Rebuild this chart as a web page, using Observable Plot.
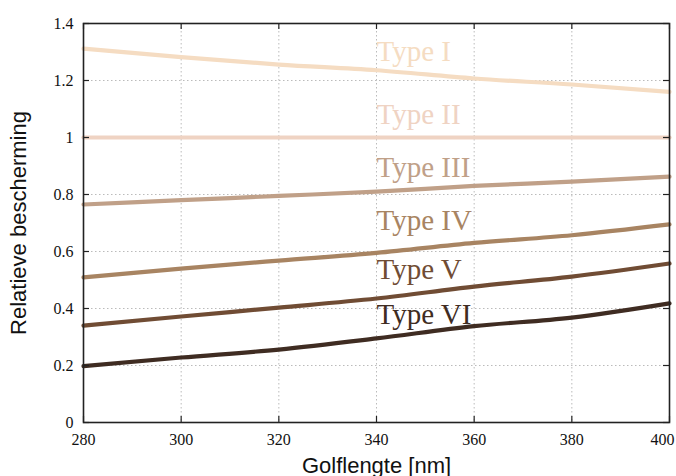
<!DOCTYPE html>
<html>
<head>
<meta charset="utf-8">
<script src="https://cdn.jsdelivr.net/npm/d3@7"></script>
<script src="https://cdn.jsdelivr.net/npm/@observablehq/plot@0.6"></script>
<style>
  html, body { margin: 0; padding: 0; background: #fff; }
  #chart svg { display: block; }
</style>
</head>
<body>
<div id="chart"></div>
<script>
const wavelengths = [280, 300, 320, 340, 360, 380, 400];
const typeNames = ["Type I", "Type II", "Type III", "Type IV", "Type V", "Type VI"];
const typeI   = [1.312, 1.282, 1.256, 1.236, 1.207, 1.186, 1.160];
const typeII  = [1.000, 1.000, 1.000, 1.000, 1.000, 1.000, 1.000];
const typeIII = [0.765, 0.780, 0.795, 0.810, 0.830, 0.845, 0.863];
const typeIV  = [0.509, 0.540, 0.568, 0.595, 0.630, 0.657, 0.695];
const typeV   = [0.340, 0.372, 0.403, 0.435, 0.477, 0.512, 0.558];
const typeVI  = [0.198, 0.228, 0.256, 0.295, 0.338, 0.368, 0.418];
const seriesValues = [typeI, typeII, typeIII, typeIV, typeV, typeVI];
const colors = ["#f5dcc2", "#efd3c3", "#c0a088", "#a88462", "#704c34", "#3f2c22"];
const labelX = [340, 340, 340, 340, 340, 340];
const labelY = [1.267, 1.049, 0.860, 0.674, 0.502, 0.347];
const xTicks = [280, 300, 320, 340, 360, 380, 400];
const yTicks = [0, 0.2, 0.4, 0.6, 0.8, 1, 1.2, 1.4];
const xGrid = [300, 320, 340, 360, 380];
const yGrid = [0.2, 0.4, 0.6, 0.8, 1, 1.2];

const rows = [];
seriesValues.forEach((vals, i) => vals.forEach((v, j) => rows.push({type: typeNames[i], x: wavelengths[j], y: v})));
const labels = typeNames.map((t, i) => ({type: t, x: labelX[i], y: labelY[i]}));

const W = 676, H = 476;
const mL = 83, mR = 7, mT = 23, mB = 54;
const pw = W - mL - mR, ph = H - mT - mB;
const tickLen = 6;

const chart = Plot.plot({
  width: W, height: H,
  marginLeft: mL, marginRight: mR, marginTop: mT, marginBottom: mB,
  x: {domain: [280, 400]},
  y: {domain: [0, 1.4]},
  color: {domain: typeNames, range: colors},
  style: {fontFamily: "'Liberation Serif', 'Times New Roman', serif", fontSize: "16px", color: "#111", background: "#fff"},
  marks: [
    Plot.ruleX(xGrid, {x: d => d, stroke: "#aaa", strokeWidth: 0.8, strokeDasharray: "1.5,2.5"}),
    Plot.ruleY(yGrid, {y: d => d, stroke: "#aaa", strokeWidth: 0.8, strokeDasharray: "1.5,2.5"}),
    Plot.line(rows, {x: "x", y: "y", z: "type", stroke: "type", strokeWidth: 4.2, curve: "monotone-x"}),
    Plot.text(labels, {x: "x", y: "y", text: "type", fill: "type", textAnchor: "start", lineAnchor: "bottom", fontSize: 29, fontFamily: "'Liberation Serif', 'Times New Roman', serif"}),
    Plot.tickX(xTicks, {x: d => d, stroke: "#222", strokeWidth: 1.2, insetTop: ph - tickLen}),
    Plot.tickX(xTicks, {x: d => d, stroke: "#222", strokeWidth: 1.2, insetBottom: ph - tickLen}),
    Plot.tickY(yTicks, {y: d => d, stroke: "#222", strokeWidth: 1.2, insetRight: pw - tickLen}),
    Plot.tickY(yTicks, {y: d => d, stroke: "#222", strokeWidth: 1.2, insetLeft: pw - tickLen}),
    Plot.frame({stroke: "#222", strokeWidth: 1.6}),
    Plot.axisX({ticks: xTicks, tickSize: 0, tickPadding: 11, fontSize: 16,
      label: "Golflengte [nm]", labelAnchor: "center", labelArrow: "none", labelOffset: 50}),
    Plot.axisY({ticks: yTicks, tickSize: 0, tickPadding: 10, fontSize: 16, tickFormat: d => String(d),
      label: "Relatieve bescherming", labelAnchor: "center", labelArrow: "none", labelOffset: 73})
  ]
});

// axis titles in sans-serif
d3.select(chart).selectAll("[aria-label='x-axis label'] text, [aria-label='y-axis label'] text")
  .attr("font-family", "'Liberation Sans', Arial, sans-serif")
  .attr("font-size", 22)
  .attr("fill", "#111");
// last x tick label nudged inward like the reference
const xt = d3.select(chart).selectAll("[aria-label='x-axis tick label'] text").nodes();
if (xt.length) d3.select(xt[xt.length - 1]).attr("dx", -7);

document.getElementById("chart").appendChild(chart);
</script>
</body>
</html>
